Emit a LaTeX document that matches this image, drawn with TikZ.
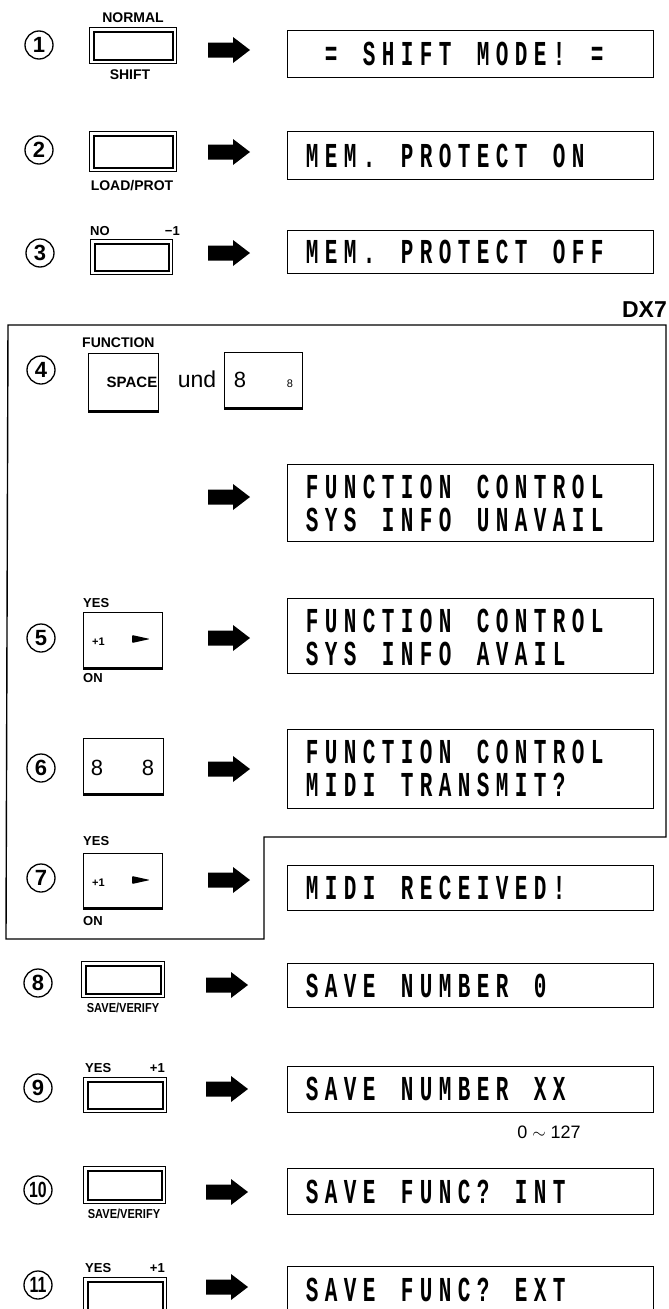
\documentclass[tikz,border=0pt]{standalone}
\usepackage{fontspec}
\setmainfont{Liberation Sans}
\newfontfamily\lcdfont[FakeStretch=0.6]{Liberation Mono}
\newcommand\lcdchar[1]{\makebox[19pt][c]{#1}}
\makeatletter
\def\lcdline#1{\lcd@loop#1\relax}
\def\lcd@loop#1{\ifx\relax#1\else\lcdchar{#1}\expandafter\lcd@loop\fi}
\makeatother
\tikzset{
  disp/.style={draw, line width=1.4pt, inner sep=0, anchor=north west, minimum width=366pt},
  lcd/.style={anchor=base west, inner sep=0, font=\lcdfont\bfseries\fontsize{35}{35}\selectfont},
  num/.style={circle, draw, line width=1.3pt, minimum size=28pt, inner sep=0, font=\fontsize{22}{22}\selectfont\bfseries},
  lbl/.style={inner sep=0, anchor=base, font=\fontsize{14}{14}\selectfont\bfseries},
  slbl/.style={inner sep=0, anchor=base west, font=\fontsize{13}{13}\selectfont\bfseries},
  key/.style={draw, line width=1.3pt, inner sep=0, anchor=north west},
  btn/.style={draw, line width=1.2pt, inner sep=0, anchor=north west},
  blockarrow/.pic={\fill (-21,-7.5) -- (4,-7.5) -- (4,-13) -- (21,0) -- (4,13) -- (4,7.5) -- (-21,7.5) -- cycle;},
  pointer/.pic={\fill[rounded corners=1pt] (-9,-4) -- (9,0) -- (-9,4) -- cycle;}
}
\newcommand\btninner[1]{\draw[line width=2pt] ([shift={(5,5)}]#1.north west) rectangle ([shift={(-4,-4)}]#1.south east);}
\newcommand\keybase[1]{\draw[line width=2.6pt] (#1.south west) -- (#1.south east);}
\begin{document}
\begin{tikzpicture}[x=1pt,y=-1pt]
\useasboundingbox (0,0) rectangle (669,1309);
\clip (0,0) rectangle (669,1309);

% ---- row 1
\node[num] (n1) at (39,45) {1};
\node[btn, minimum width=87pt, minimum height=36pt] (b1) at (89,27) {};
\btninner{b1}
\node[lbl] (l1a) at (133,23) {NORMAL};
\node[lbl] (l1b) at (130,79) {SHIFT};
\pic (a1) at (229,50) {blockarrow};
\node[disp, minimum height=47pt] (d1) at (287,30) {};
\node[lcd] (t1) at (302.5,65.5) {\lcdline{~=~SHIFT~MODE!~=}};

% ---- row 2
\node[num] (n2) at (39,150) {2};
\node[btn, minimum width=87pt, minimum height=40pt] (b2) at (89,131) {};
\btninner{b2}
\node[lbl] (l2) at (132,190) {LOAD/PROT};
\pic (a2) at (229,152) {blockarrow};
\node[disp, minimum height=48pt] (d2) at (287,131) {};
\node[lcd] (t2) at (302.5,167) {\lcdline{MEM.~PROTECT~ON}};

% ---- row 3
\node[num] (n3) at (40,253) {3};
\node[btn, minimum width=82pt, minimum height=35pt] (b3) at (90,239) {};
\btninner{b3}
\node[slbl] (l3a) at (90,235) {NO};
\node[slbl, anchor=base east] (l3b) at (180,235) {−1};
\pic (a3) at (229,253) {blockarrow};
\node[disp, minimum height=43pt] (d3) at (287,230) {};
\node[lcd] (t3) at (302.5,263.5) {\lcdline{MEM.~PROTECT~OFF}};

% ---- DX7 frame
\node[inner sep=0, anchor=base east, font=\fontsize{23}{23}\selectfont\bfseries] (dx) at (667,317) {DX7};
\draw[line width=1.4pt] (8,325) -- (666,325) -- (666,837) -- (264,837) -- (264,939) -- (6,939) -- cycle;

% ---- row 4
\node[num] (n4) at (41,370) {4};
\node[slbl, font=\fontsize{14}{14}\selectfont\bfseries] (l4) at (82,347) {FUNCTION};
\node[key, minimum width=70pt, minimum height=57pt] (k4a) at (88,353) {};
\keybase{k4a}
\node[lbl, font=\fontsize{15}{15}\selectfont\bfseries] (s4) at (132,387) {SPACE};
\node[inner sep=0, anchor=base, font=\fontsize{23}{23}\selectfont] (und) at (197,387) {und};
\node[key, minimum width=78pt, minimum height=55pt] (k4b) at (224,352) {};
\keybase{k4b}
\node[inner sep=0, anchor=base, font=\fontsize{22}{22}\selectfont] (e4a) at (240,387) {8};
\node[inner sep=0, anchor=base, font=\fontsize{11}{11}\selectfont] (e4b) at (290,387) {8};
\pic (a4) at (229,497) {blockarrow};
\node[disp, minimum height=77pt] (d4) at (287,464) {};
\node[lcd] (t4a) at (302.5,498) {\lcdline{FUNCTION~CONTROL}};
\node[lcd] (t4b) at (302.5,531) {\lcdline{SYS~INFO~UNAVAIL}};

% ---- row 5
\node[num] (n5) at (41,638) {5};
\node[slbl] (y5) at (83,607) {YES};
\node[key, minimum width=79pt, minimum height=55pt] (k5) at (83,612) {};
\keybase{k5}
\node[slbl, font=\fontsize{11}{11}\selectfont\bfseries] (p5) at (92,645) {+1};
\pic (q5) at (141,639) {pointer};
\node[slbl] (o5) at (83,682) {ON};
\pic (a5) at (229,638) {blockarrow};
\node[disp, minimum height=75pt] (d5) at (287,598) {};
\node[lcd] (t5a) at (302.5,632) {\lcdline{FUNCTION~CONTROL}};
\node[lcd] (t5b) at (302.5,665) {\lcdline{SYS~INFO~AVAIL}};

% ---- row 6
\node[num] (n6) at (41,768) {6};
\node[key, minimum width=80pt, minimum height=55pt] (k6) at (83,738) {};
\keybase{k6}
\node[inner sep=0, anchor=base, font=\fontsize{22}{22}\selectfont] (e6a) at (97,775) {8};
\node[inner sep=0, anchor=base, font=\fontsize{22}{22}\selectfont] (e6b) at (148,775) {8};
\pic (a6) at (229,769) {blockarrow};
\node[disp, minimum height=79pt] (d6) at (287,729) {};
\node[lcd] (t6a) at (302.5,763) {\lcdline{FUNCTION~CONTROL}};
\node[lcd] (t6b) at (302.5,796) {\lcdline{MIDI~TRANSMIT?}};

% ---- row 7
\node[num] (n7) at (41,878) {7};
\node[slbl] (y7) at (83,845) {YES};
\node[key, minimum width=79pt, minimum height=54pt] (k7) at (83,853) {};
\keybase{k7}
\node[slbl, font=\fontsize{11}{11}\selectfont\bfseries] (p7) at (92,886) {+1};
\pic (q7) at (141,880) {pointer};
\node[slbl] (o7) at (83,925) {ON};
\pic (a7) at (229,880) {blockarrow};
\node[disp, minimum height=45pt] (d7) at (287,865) {};
\node[lcd] (t7) at (302.5,899.5) {\lcdline{MIDI~RECEIVED!}};

% ---- row 8
\node[num] (n8) at (38,983) {8};
\node[btn, minimum width=83pt, minimum height=36pt] (b8) at (81,961) {};
\btninner{b8}
\node[lbl, font=\fontsize{13}{13}\selectfont\bfseries] (l8) at (123,1012) {\scalebox{0.85}[1]{SAVE/VERIFY}};
\pic (a8) at (227,985) {blockarrow};
\node[disp, minimum height=44pt] (d8) at (287,963) {};
\node[lcd] (t8) at (302.5,997) {\lcdline{SAVE~NUMBER~0}};

% ---- row 9
\node[num] (n9) at (38,1088) {9};
\node[slbl] (y9) at (85,1072) {YES};
\node[slbl, anchor=base east] (p9) at (165,1072) {+1};
\node[btn, minimum width=83pt, minimum height=35pt] (b9) at (83,1077) {};
\btninner{b9}
\pic (a9) at (227,1089) {blockarrow};
\node[disp, minimum height=46pt] (d9) at (287,1066) {};
\node[lcd] (t9) at (302.5,1100) {\lcdline{SAVE~NUMBER~XX}};
\node[inner sep=0, anchor=base, font=\fontsize{18}{18}\selectfont] (r9) at (549,1138) {0 $\sim$ 127};

% ---- row 10
\node[num] (n10) at (38,1190) {\scalebox{0.72}[1]{10}};
\node[btn, minimum width=82pt, minimum height=37pt] (b10) at (83,1166) {};
\btninner{b10}
\node[lbl, font=\fontsize{13}{13}\selectfont\bfseries] (l10) at (124,1218) {\scalebox{0.85}[1]{SAVE/VERIFY}};
\pic (a10) at (227,1192) {blockarrow};
\node[disp, minimum height=46pt] (d10) at (287,1168) {};
\node[lcd] (t10) at (302.5,1203) {\lcdline{SAVE~FUNC?~INT}};

% ---- row 11
\node[num] (n11) at (38,1285) {\scalebox{0.72}[1]{11}};
\node[slbl] (y11) at (85,1272) {YES};
\node[slbl, anchor=base east] (p11) at (165,1272) {+1};
\node[btn, minimum width=83pt, minimum height=36pt] (b11) at (83,1277) {};
\btninner{b11}
\pic (a11) at (227,1287) {blockarrow};
\node[disp, minimum height=48pt] (d11) at (287,1266) {};
\node[lcd] (t11) at (302.5,1301) {\lcdline{SAVE~FUNC?~EXT}};
\end{tikzpicture}
\end{document}
